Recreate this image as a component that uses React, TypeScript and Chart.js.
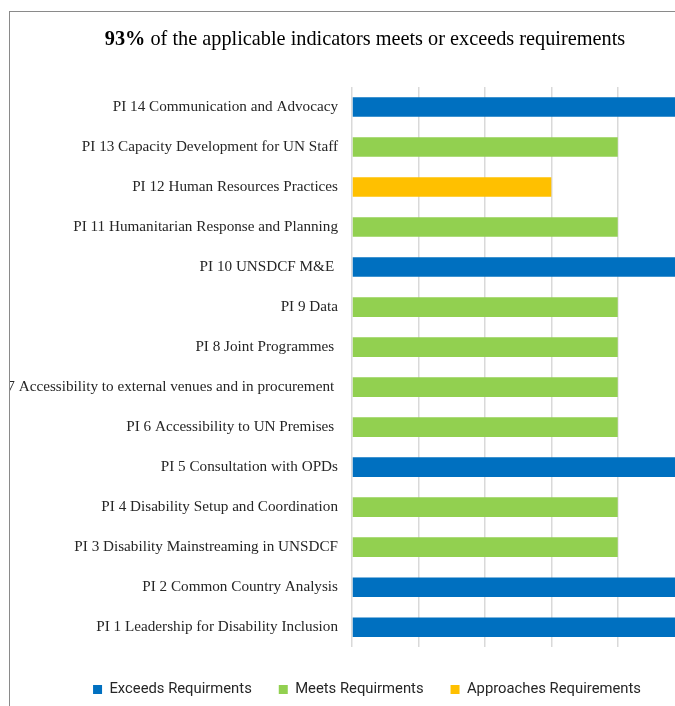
import React, { useEffect, useRef } from "react";
import { Chart, registerables } from "chart.js";

Chart.register(...registerables);

const categories = [
  "PI 14 Communication and Advocacy",
  "PI 13 Capacity Development for UN Staff",
  "PI 12 Human Resources Practices",
  "PI 11 Humanitarian Response and Planning",
  "PI 10 UNSDCF M&E ",
  "PI 9 Data",
  "PI 8 Joint Programmes ",
  "PI 7 Accessibility to external venues and in procurement ",
  "PI 6 Accessibility to UN Premises ",
  "PI 5 Consultation with OPDs",
  "PI 4 Disability Setup and Coordination",
  "PI 3 Disability Mainstreaming in UNSDCF",
  "PI 2 Common Country Analysis",
  "PI 1 Leadership for Disability Inclusion",
];

const exceedsValues = [5, null, null, null, 5, null, null, null, null, 5, null, null, 5, 5];
const meetsValues = [null, 4, null, 4, null, 4, 4, 4, 4, null, 4, 4, null, null];
const approachesValues = [null, null, 3, null, null, null, null, null, null, null, null, null, null, null];

const seriesNames = ["Exceeds Requirments", "Meets Requirments", "Approaches Requirements"];
const seriesColors = ["#0070C0", "#92D050", "#FFC000"];

const scaleMin = 0;
const scaleMax = 5.6;
const scaleStep = 1;

const titleBold = "93%";
const titleRest = " of the applicable indicators meets or exceeds requirements";

export default function App() {
  const ref = useRef<HTMLCanvasElement>(null);

  useEffect(() => {
    if (!ref.current) return;
    const chart = new Chart(ref.current, {
      type: "bar",
      data: {
        labels: categories,
        datasets: [
          { label: seriesNames[0], data: exceedsValues as any, backgroundColor: seriesColors[0] },
          { label: seriesNames[1], data: meetsValues as any, backgroundColor: seriesColors[1] },
          { label: seriesNames[2], data: approachesValues as any, backgroundColor: seriesColors[2] },
        ],
      },
      options: {
        animation: false,
        responsive: false,
        maintainAspectRatio: false,
        indexAxis: "y",
        datasets: { bar: { barPercentage: 0.49, categoryPercentage: 1 } },
        layout: { padding: { top: 75, left: 0, right: 0, bottom: 0 } },
        plugins: {
          title: { display: false },
          tooltip: { enabled: false },
          legend: {
            position: "bottom",
            align: "center",
            labels: {
              boxWidth: 9,
              boxHeight: 9,
              padding: 27,
              color: "#262626",
              font: { family: "Roboto, sans-serif", size: 14.8 },
            },
          },
        },
        scales: {
          x: {
            stacked: true,
            min: scaleMin,
            max: scaleMax,
            ticks: { display: false, stepSize: scaleStep },
            grid: {
              color: "#d9d9d9",
              lineWidth: 1.5,
              drawTicks: true,
              tickLength: 8,
              tickColor: "rgba(0,0,0,0)",
            },
            border: { display: false },
          },
          y: {
            stacked: true,
            grid: { display: false, drawTicks: false },
            border: { display: false },
            ticks: {
              padding: 14,
              color: "#262626",
              autoSkip: false,
              font: { family: '"Liberation Serif", "Times New Roman", serif', size: 15.2 },
            },
            afterFit: (scale: any) => {
              scale.width = 342;
            },
          },
        },
      },
    });
    return () => chart.destroy();
  }, []);

  return (
    <div
      style={{
        position: "fixed",
        left: 0,
        top: 0,
        width: 675,
        height: 706,
        overflow: "hidden",
        background: "#ffffff",
      }}
    >
      <div
        style={{
          position: "absolute",
          left: 9,
          top: 11,
          width: 710,
          height: 720,
          border: "1px solid #8a8a8a",
        }}
      >
        <canvas
          ref={ref}
          width={714}
          height={695}
          style={{ position: "absolute", left: 0, top: 0, display: "block" }}
        />
        <div
          style={{
            position: "absolute",
            left: 0,
            top: 14,
            width: 710,
            textAlign: "center",
            fontFamily: '"Liberation Serif", "Times New Roman", serif',
            fontSize: 20.3,
            lineHeight: "24px",
            color: "#000",
          }}
        >
          <b>{titleBold}</b>
          {titleRest}
        </div>
      </div>
    </div>
  );
}
